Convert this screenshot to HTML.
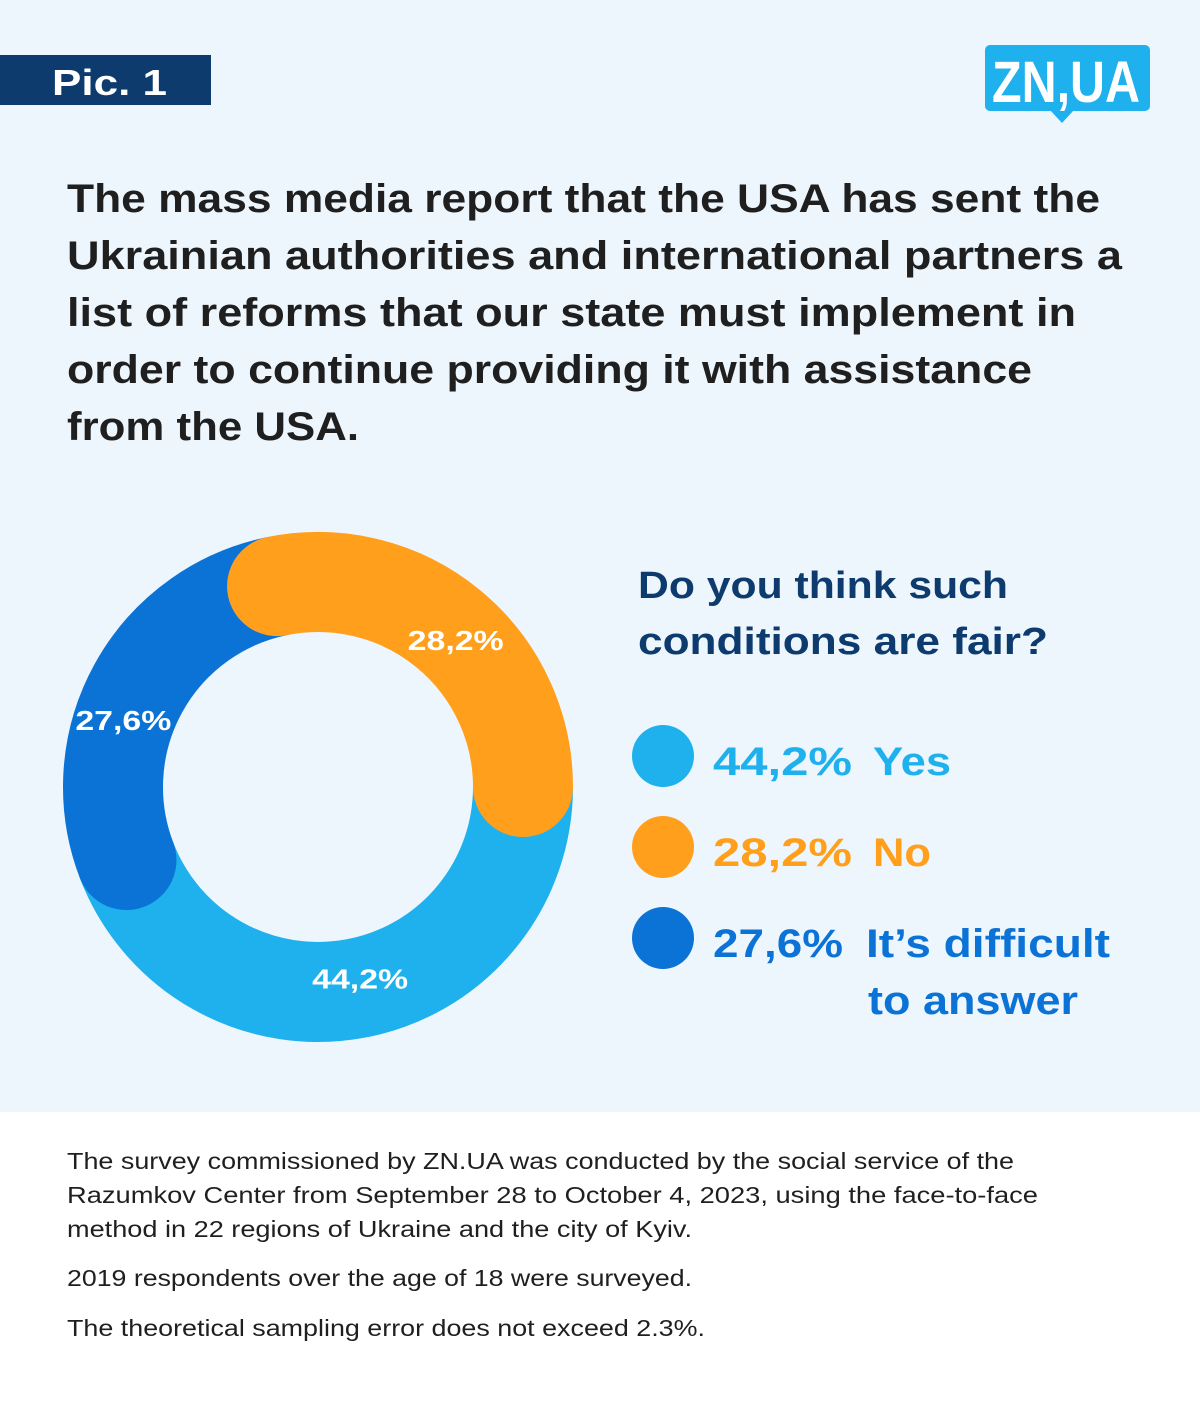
<!DOCTYPE html>
<html><head><meta charset="utf-8"><style>
html,body{margin:0;padding:0}
body{width:1200px;height:1405px;position:relative;background:#fff;font-family:"Liberation Sans",sans-serif;overflow:hidden}
svg{position:absolute;left:0;top:0}
</style></head><body>
<svg width="1200" height="1405" viewBox="0 0 1200 1405">
<rect x="0" y="0" width="1200" height="1112" fill="#eef6fd"/>
<g>
<rect x="0" y="55" width="211" height="50" fill="#0d3b6e"/>
<text x="52" y="95" fill="#fff" font-size="36" font-weight="bold" textLength="115" lengthAdjust="spacingAndGlyphs">Pic. 1</text>
</g>
<g>
<rect x="985" y="45" width="165" height="66" rx="5" fill="#1fb0ee"/>
<path d="M1050 110 L1062 123 L1074 110 Z" fill="#1fb0ee"/>
<text x="992" y="102" fill="#fff" font-size="58" font-weight="bold" textLength="148" lengthAdjust="spacingAndGlyphs">ZN,UA</text>
</g>
<g fill="#1f1f1f" font-size="40" font-weight="bold">
<text x="67" y="212" textLength="1033" lengthAdjust="spacingAndGlyphs">The mass media report that the USA has sent the</text>
<text x="67" y="269" textLength="1055" lengthAdjust="spacingAndGlyphs">Ukrainian authorities and international partners a</text>
<text x="67" y="326" textLength="1009" lengthAdjust="spacingAndGlyphs">list of reforms that our state must implement in</text>
<text x="67" y="383" textLength="965" lengthAdjust="spacingAndGlyphs">order to continue providing it with assistance</text>
<text x="67" y="440" textLength="292" lengthAdjust="spacingAndGlyphs">from the USA.</text>
</g>
<g id="donut"></g>
<g fill="#0d3b6e" font-size="38" font-weight="bold">
<text x="638" y="598" textLength="370" lengthAdjust="spacingAndGlyphs">Do you think such</text>
<text x="638" y="654" textLength="410" lengthAdjust="spacingAndGlyphs">conditions are fair?</text>
</g>
<g id="legend"></g>
<g fill="#1f1f1f" font-size="23">
<text x="67" y="1169" textLength="947" lengthAdjust="spacingAndGlyphs">The survey commissioned by ZN.UA was conducted by the social service of the</text>
<text x="67" y="1203" textLength="971" lengthAdjust="spacingAndGlyphs">Razumkov Center from September 28 to October 4, 2023, using the face-to-face</text>
<text x="67" y="1237" textLength="625" lengthAdjust="spacingAndGlyphs">method in 22 regions of Ukraine and the city of Kyiv.</text>
<text x="67" y="1286" textLength="625" lengthAdjust="spacingAndGlyphs">2019 respondents over the age of 18 were surveyed.</text>
<text x="67" y="1336" textLength="638" lengthAdjust="spacingAndGlyphs">The theoretical sampling error does not exceed 2.3%.</text>
</g>
</svg>
<script>
const categories = ["Yes", "No", "It\u2019s difficult to answer"];
const values = [44.2, 28.2, 27.6];
const valueLabels = ["44,2%", "28,2%", "27,6%"];
const colors = ["#1fb0ee", "#ff9f1c", "#0c73d6"];
const NS = "http://www.w3.org/2000/svg";
const cx = 318, cy = 787, rMid = 205, ring = 100;
const labelNudge = [[5, -10], [8, 12], [-15, 32]];
const total = values.reduce((a, b) => a + b, 0);
function angleOf(v) { return v / total * 360; }
function pt(deg, r) { const a = (deg - 90) * Math.PI / 180; return [cx + r * Math.cos(a), cy + r * Math.sin(a)]; }
function arcPath(a0, a1) {
  const p0 = pt(a0, rMid), p1 = pt(a1, rMid);
  const large = (a1 - a0) > 180 ? 1 : 0;
  return `M${p0[0]} ${p0[1]} A${rMid} ${rMid} 0 ${large} 1 ${p1[0]} ${p1[1]}`;
}
const donut = document.getElementById("donut");
const startYes = 90;
const segs = [];
segs[0] = [startYes, startYes + angleOf(values[0])];
segs[2] = [segs[0][1], segs[0][1] + angleOf(values[2])];
segs[1] = [segs[2][1], segs[2][1] + angleOf(values[1])];
const order = [0, 2, 1];
order.forEach(i => {
  const p = document.createElementNS(NS, "path");
  p.setAttribute("d", arcPath(segs[i][0], segs[i][1]));
  p.setAttribute("fill", "none");
  p.setAttribute("stroke", colors[i]);
  p.setAttribute("stroke-width", ring);
  p.setAttribute("stroke-linecap", i === 0 ? "butt" : "round");
  
  
  donut.appendChild(p);
});
order.forEach(i => {
  const mid = (segs[i][0] + segs[i][1]) / 2;
  const q = pt(mid, rMid);
  const t = document.createElementNS(NS, "text");
  t.setAttribute("x", q[0] + labelNudge[i][0]);
  t.setAttribute("y", q[1] + 10 + labelNudge[i][1]);
  t.setAttribute("text-anchor", "middle");
  t.setAttribute("fill", "#fff");
  t.setAttribute("font-size", "28");
  t.setAttribute("font-weight", "bold");
  t.setAttribute("textLength", "96");
  t.setAttribute("lengthAdjust", "spacingAndGlyphs");
  t.textContent = valueLabels[i];
  
  
  donut.appendChild(t);
});
const legend = document.getElementById("legend");
const rowsY = [756, 847, 938];
const labelWidths = [78, 58];
[0, 1, 2].forEach(i => {
  const g = document.createElementNS(NS, "g");
  
  
  const c = document.createElementNS(NS, "circle");
  c.setAttribute("cx", 663); c.setAttribute("cy", rowsY[i]); c.setAttribute("r", 31);
  c.setAttribute("fill", colors[i]);
  g.appendChild(c);
  const v = document.createElementNS(NS, "text");
  v.setAttribute("x", 713); v.setAttribute("y", rowsY[i] + 19);
  v.setAttribute("fill", colors[i]); v.setAttribute("font-size", "40"); v.setAttribute("font-weight", "bold");
  v.setAttribute("textLength", i === 2 ? 130 : 139); v.setAttribute("lengthAdjust", "spacingAndGlyphs");
  v.textContent = valueLabels[i];
  g.appendChild(v);
  const lab = document.createElementNS(NS, "text");
  lab.setAttribute("x", i === 2 ? 866 : 873); lab.setAttribute("y", rowsY[i] + 19);
  lab.setAttribute("fill", colors[i]); lab.setAttribute("font-size", "40"); lab.setAttribute("font-weight", "bold");
  if (i === 2) {
    const s1 = document.createElementNS(NS, "tspan");
    s1.setAttribute("x", 866); s1.setAttribute("textLength", 244); s1.setAttribute("lengthAdjust", "spacingAndGlyphs");
    s1.textContent = "It\u2019s difficult";
    const s2 = document.createElementNS(NS, "tspan");
    s2.setAttribute("x", 868); s2.setAttribute("dy", 57); s2.setAttribute("textLength", 210); s2.setAttribute("lengthAdjust", "spacingAndGlyphs");
    s2.textContent = "to answer";
    lab.appendChild(s1); lab.appendChild(s2);
  } else {
    lab.setAttribute("textLength", labelWidths[i]);
    lab.setAttribute("lengthAdjust", "spacingAndGlyphs");
    lab.textContent = categories[i];
  }
  g.appendChild(lab);
  legend.appendChild(g);
});
</script>
</body></html>
